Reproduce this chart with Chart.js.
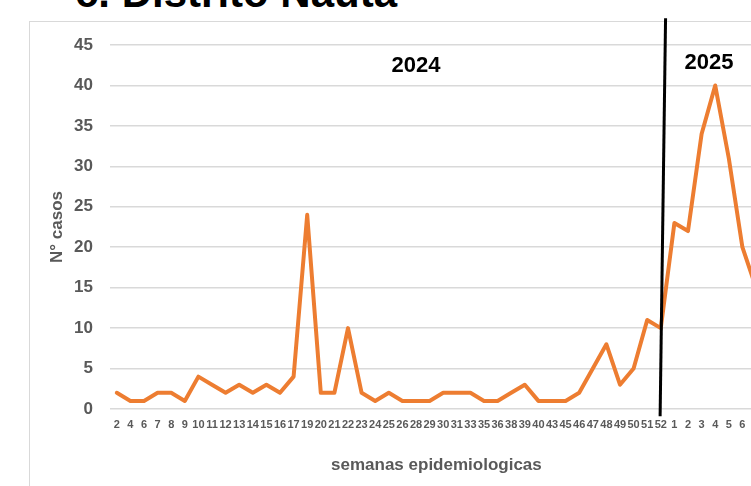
<!DOCTYPE html>
<html>
<head>
<meta charset="utf-8">
<script src="https://cdn.jsdelivr.net/npm/chart.js@4"></script>
<style>
  html, body { margin: 0; padding: 0; background: #fff; overflow: hidden; width: 751px; height: 486px; }
  #frame { position: absolute; left: 29px; top: 21px; width: 900px; height: 700px; border: 1.5px solid #d9d9d9; box-sizing: border-box; }
  #title { position: absolute; left: 75px; top: -28px; font: bold 42px "Liberation Sans", Arial, sans-serif; line-height: 42px; color: #000; white-space: nowrap; }
  #c { position: absolute; left: 0; top: 0; }
</style>
</head>
<body>
<div id="frame"></div>
<div id="title">c. Distrito Nauta</div>
<canvas id="c" width="800" height="486"></canvas>
<script>
const weeks = ['2','4','6','7','8','9','10','11','12','13','14','15','16','17','19','20','21','22','23','24','25','26','28','29','30','31','33','35','36','38','39','40','43','45','46','47','48','49','50','51','52','1','2','3','4','5','6','7'];
const cases = [2,1,1,2,2,1,4,3,2,3,2,3,2,4,24,2,2,10,2,1,2,1,1,1,2,2,2,1,1,2,3,1,1,1,2,5,8,3,5,11,10,23,22,34,40,31,20,15];
const yTicks = [0,5,10,15,20,25,30,35,40,45];
const yearLabels = ['2024','2025'];

const annot = {
  id: 'annot',
  afterDatasetsDraw(chart) {
    const {ctx, scales: {x, y}} = chart;
    ctx.save();
    // year divider line
    ctx.strokeStyle = '#000';
    ctx.lineWidth = 3;
    ctx.beginPath();
    ctx.moveTo(x.getPixelForValue(40.35), y.getPixelForValue(48.3));
    ctx.lineTo(x.getPixelForValue(39.95), y.getPixelForValue(-0.9));
    ctx.stroke();
    // year labels
    ctx.fillStyle = '#000';
    ctx.font = 'bold 22px "Liberation Sans", Arial, sans-serif';
    ctx.textAlign = 'center';
    ctx.textBaseline = 'middle';
    ctx.fillText(yearLabels[0], x.getPixelForValue(22.0), y.getPixelForValue(42.4));
    ctx.fillText(yearLabels[1], x.getPixelForValue(43.55), y.getPixelForValue(42.75));
    ctx.restore();
  }
};

new Chart(document.getElementById('c'), {
  type: 'line',
  data: {
    labels: weeks,
    datasets: [{
      data: cases,
      borderColor: '#ED7D31',
      backgroundColor: '#ED7D31',
      borderWidth: 4,
      pointRadius: 0,
      tension: 0,
      borderJoinStyle: 'round',
      borderCapStyle: 'round'
    }]
  },
  options: {
    responsive: false,
    animation: false,
    devicePixelRatio: 1,
    layout: { padding: { left: 0, top: 45, right: 37.2, bottom: 0 } },
    plugins: { legend: { display: false }, tooltip: { enabled: false } },
    scales: {
      x: {
        type: 'category',
        offset: true,
        grid: { display: false, drawTicks: false },
        border: { display: false },
        ticks: {
          autoSkip: false, maxRotation: 0, minRotation: 0, padding: 9,
          color: '#595959',
          font: { family: '"Liberation Sans", Arial, sans-serif', size: 11, weight: 'bold' }
        },
        title: {
          display: true, text: 'semanas epidemiologicas', color: '#595959',
          font: { family: '"Liberation Sans", Arial, sans-serif', size: 17, weight: 'bold' },
          padding: { top: 0, bottom: 10 }
        },
        afterFit(s) { s.height = 77; }
      },
      y: {
        min: 0, max: 45,
        afterBuildTicks(s) { s.ticks = yTicks.map(v => ({ value: v })); },
        grid: { color: '#d9d9d9', lineWidth: 1.5, drawTicks: false },
        border: { display: false },
        ticks: {
          padding: 17, color: '#595959',
          font: { family: '"Liberation Sans", Arial, sans-serif', size: 17, weight: 'bold' }
        },
        title: {
          display: true, text: 'N° casos', color: '#595959',
          font: { family: '"Liberation Sans", Arial, sans-serif', size: 17, weight: 'bold' },
          padding: { top: 47, bottom: 0 }
        },
        afterFit(s) { s.width = 110; }
      }
    }
  },
  plugins: [annot]
});
</script>
</body>
</html>
